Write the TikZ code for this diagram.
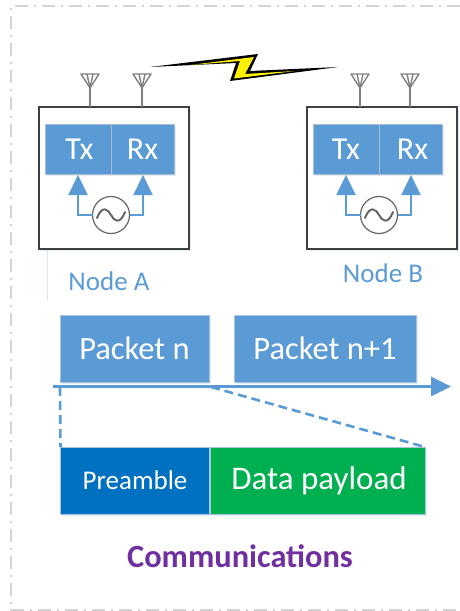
\documentclass[tikz,border=0pt]{standalone}
\usepackage{fontspec}
\setmainfont{Carlito}
\usetikzlibrary{arrows.meta,shadows,calc}
\definecolor{blu}{HTML}{5B9BD5}
\definecolor{dkblu}{HTML}{0070C0}
\definecolor{grn}{HTML}{00B050}
\definecolor{purp}{HTML}{7030A0}
\definecolor{frm}{HTML}{D4D4D4}
\definecolor{ant}{HTML}{808080}
\tikzset{
  x=1pt,y=-1pt,
  softshadow/.style={drop shadow={shadow xshift=1.5pt,shadow yshift=-2pt,fill=blu,opacity=.18}},
  nodebox/.style={draw=black!75,line width=1.5pt,fill=white,minimum width=150pt,minimum height=142pt,inner sep=0pt,outer sep=0pt},
  radio/.style={fill=blu,draw=black!20!white!70!blu,line width=.7pt,text=white,minimum height=50pt,inner sep=0pt,outer sep=0pt,font=\fontsize{32}{34}\selectfont,softshadow},
  packet/.style={fill=blu,draw=black!10!white!55!blu,line width=.7pt,text=white,minimum height=67pt,inner sep=0pt,outer sep=0pt,font=\fontsize{32.5}{34}\selectfont,softshadow},
  osc/.style={circle,draw=black!60,line width=1.2pt,fill=white,minimum size=37pt,inner sep=0pt,outer sep=0pt},
  feed/.style={draw=blu,line width=2.2pt,-{Triangle[length=20pt,width=19pt]}},
  anttri/.style={draw=ant,line width=1.4pt,line join=round},
  lab/.style={text=blu,inner sep=0pt,font=\fontsize{27}{29}\selectfont},
  tline/.style={draw=blu,line width=2.8pt},
  dashl/.style={draw=blu,line width=2.6pt,dash pattern=on 9pt off 5pt}
}
\newcommand{\antenna}[1]{%
  \draw[anttri] (#1-9,74) -- (#1+9,74) -- (#1,88) -- cycle;
  \draw[anttri] (#1-3,74) -- (#1,88) -- (#1+3,74);
  \draw[anttri] (#1,88) -- (#1,107);
}
\newcommand{\wave}[1]{%
  \draw[black!60,line width=2pt,line cap=round] ($(#1)+(-14,3)$) .. controls ($(#1)+(-9,-10)$) and ($(#1)+(-3,-6)$) .. (#1.center) .. controls ($(#1)+(3,6)$) and ($(#1)+(9,10)$) .. ($(#1)+(14,-3)$);
}
\begin{document}
\begin{tikzpicture}
\useasboundingbox (0,0) rectangle (460,611);
% frame
\draw[frm,line width=2pt,dash pattern=on 13pt off 6pt on 2pt off 6pt] (460,5.5) -- (11,5.5) -- (11,609.5) -- (460,609.5);
% faint line
\draw[blu!25,line width=1pt] (47,174) -- (47,301);
% node A
\node[nodebox,softshadow] (boxA) at (114,178) {};
\node[radio,minimum width=66pt] (txA) at (78,149) {\hspace{3pt}Tx};
\node[radio,minimum width=63pt] (rxA) at (142.5,149) {Rx};
\node[osc] (oscA) at (111,215) {};
\wave{oscA}
\coordinate (ta) at (78,175); \coordinate (ra) at (143,175);
\draw[feed] (oscA.west) -| (ta);
\draw[feed] (oscA.east) -| (ra);
\antenna{90}
\antenna{142}
\node[lab] (labA) at (109,281) {Node A};
% node B
\node[nodebox,softshadow] (boxB) at (382,178) {};
\node[radio,minimum width=66pt] (txB) at (346,149) {Tx};
\node[radio,minimum width=63pt] (rxB) at (410.5,149) {\hspace{4pt}Rx};
\node[osc] (oscB) at (379,215) {};
\wave{oscB}
\coordinate (tb) at (346,175); \coordinate (rb) at (411,175);
\draw[feed] (oscB.west) -| (tb);
\draw[feed] (oscB.east) -| (rb);
\antenna{360}
\antenna{410}
\node[lab] (labB) at (383,273) {Node B};
% bolt
\fill[black] (150,67) -- (258,54) -- (250,71) -- (338,67) -- (230,81) -- (236,63) -- cycle;
\fill[yellow] (190,65) -- (254,57) -- (245,74) -- (295,71) -- (234,78.5) -- (240,61) -- cycle;
% packets
\node[packet,minimum width=149pt] (pn) at (134.5,348.5) {Packet n};
\node[packet,minimum width=182pt] (pn1) at (325,348.5) {Packet n+1};
\coordinate (ax0) at (53,386.5); \coordinate (ax1) at (451,386.5);
\draw[tline,-{Triangle[length=20pt,width=19pt]}] (ax0) -- (ax1);
% fields
\node[packet,fill=dkblu,minimum width=149pt,font=\fontsize{27}{29}\selectfont] (pre) at (135,480.5) {Preamble};
\node[packet,fill=grn,minimum width=215pt,font=\fontsize{33}{35}\selectfont] (pay) at (319,480.5) [minimum width=215pt,xshift=-1.5pt] {\hspace{3pt}Data payload};
\coordinate (d0) at (60,387); \coordinate (d1) at (211,387);
\draw[dashl] (d0) -- (pre.north west);
\draw[dashl] (d1) -- (pay.north east);
\node[text=purp,inner sep=0pt,font=\bfseries\fontsize{32.4}{34}\selectfont] (title) at (240,556) {Communications};
\end{tikzpicture}
\end{document}
